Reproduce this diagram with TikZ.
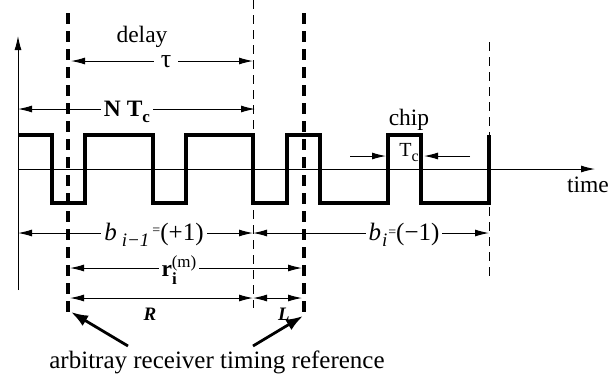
\documentclass[tikz,border=0pt]{standalone}
\usepackage{fontspec}
\setmainfont{Liberation Serif}
\usetikzlibrary{arrows.meta}
\begin{document}
\begin{tikzpicture}[x=1pt,y=-1pt,
  font=\fontsize{23.5}{27}\selectfont,
  wave/.style={line width=3.5pt, line join=miter},
  thickdash/.style={line width=3.5pt, dash pattern=on 11pt off 7pt},
  thindash/.style={line width=1pt, dash pattern=on 9pt off 6pt},
  arr/.style={-{Latex[length=14pt,width=7pt]}, line width=1pt},
  darr/.style={{Latex[length=14pt,width=7pt]}-{Latex[length=14pt,width=7pt]}, line width=1pt},
  lab/.style={fill=white, inner xsep=3pt, inner ysep=0pt},
  ptr/.style={-{Latex[length=17pt,width=12pt]}, line width=2.8pt},
  plain/.style={inner sep=0pt},
]
\useasboundingbox (0,0) rectangle (612,381);

% waveform
\draw[wave] (18,135) -| (52,203) -| (85,135) -| (153,203) -| (186,135)
  -| (253,203) -| (287,135) -| (320,203) -| (388,135) -| (421,203) -| (489,135);

% axes
\coordinate (yb) at (18,290);
\coordinate (yt) at (18,36);
\coordinate (xl) at (18,169);
\coordinate (xr) at (595,169);
\draw[arr] (yb) -- (yt);
\draw[arr] (xl) -- (xr);
\node[plain] (time) at (588,185) {time};

% dashed reference lines
\coordinate (dAt) at (68,13);  \coordinate (dAb) at (68,318);
\coordinate (dBt) at (304,13); \coordinate (dBb) at (304,318);
\coordinate (tAt) at (253,0);  \coordinate (tAb) at (253,308);
\coordinate (tBt) at (489,42); \coordinate (tBb) at (489,278);
\draw[thindash] (tAt) -- (tAb);
\draw[thindash] (tBt) -- (tBb);
\draw[thickdash] (dAt) -- (dAb);
\draw[thickdash] (dBt) -- (dBb);

% delay tau
\node[plain] (delay) at (142,37) {delay};
\coordinate (dl1) at (71,61); \coordinate (dl2) at (253,61);
\draw[darr] (dl1) -- (dl2);
\node[lab, inner xsep=7pt, text height=9pt, text depth=0pt] (tau) at (166,63) {\fontsize{26}{26}\selectfont τ};

% N Tc
\coordinate (n1) at (18,109); \coordinate (n2) at (255,109);
\draw[darr] (n1) -- (n2);
\node[lab] (ntc) at (127,112) {\bfseries N T\raisebox{-6pt}{\fontsize{17}{17}\selectfont\bfseries c}};

% b row
\coordinate (b1) at (18,233); \coordinate (b2) at (253,233); \coordinate (b3) at (489,233);
\draw[darr] (b1) -- (b2);
\draw[darr] (b2) -- (b3);
\node[lab] (bim1) at (154,235) {\fontsize{25}{25}\selectfont\itshape b\hspace{5pt}\raisebox{-6pt}{\fontsize{19}{19}\selectfont\itshape i−1}\hspace{3pt}\upshape\raisebox{6pt}{\fontsize{14}{14}\selectfont =}(+1)};
\node[lab] (bi) at (404,235) {\fontsize{25}{25}\selectfont\itshape b\hspace{1pt}\raisebox{-6pt}{\fontsize{19}{19}\selectfont\itshape i}\hspace{1pt}\upshape\raisebox{4pt}{\fontsize{14}{14}\selectfont =}(−1)};

% r row
\coordinate (r1) at (70,268); \coordinate (r2) at (302,268);
\draw[darr] (r1) -- (r2);
\node[lab] (rim) at (179,270) {\bfseries r\raisebox{-8pt}{\fontsize{17}{17}\selectfont\bfseries i}\hspace{-5pt}\raisebox{9pt}{\fontsize{17}{17}\selectfont\mdseries (m)}};

% R / L row
\coordinate (q1) at (70,298); \coordinate (q2) at (253,298); \coordinate (q3) at (302,298);
\draw[darr] (q1) -- (q2);
\draw[darr] (q2) -- (q3);
\node[plain] (R) at (150,314) {\fontsize{19}{19}\selectfont\bfseries\itshape R};
\node[plain] (L) at (284,314) {\fontsize{19}{19}\selectfont\bfseries\itshape L};

% chip
\node[plain] (chip) at (409,120) {chip};
\node[plain] (tc) at (409,153) {\fontsize{20}{20}\selectfont T\raisebox{-5pt}{\fontsize{16}{16}\selectfont c}};
\coordinate (c1) at (350,156); \coordinate (c2) at (386,156);
\coordinate (c3) at (470,156); \coordinate (c4) at (424,156);
\draw[arr] (c1) -- (c2);
\draw[arr] (c3) -- (c4);

% bottom label and pointers
\node[plain] (ref) at (217,362) {\fontsize{25}{25}\selectfont arbitray receiver timing reference};
\coordinate (p1) at (128,346); \coordinate (p2) at (71,312);
\coordinate (p3) at (253,346); \coordinate (p4) at (303,316);
\draw[ptr] (p1) -- (p2);
\draw[ptr] (p3) -- (p4);
\end{tikzpicture}
\end{document}
